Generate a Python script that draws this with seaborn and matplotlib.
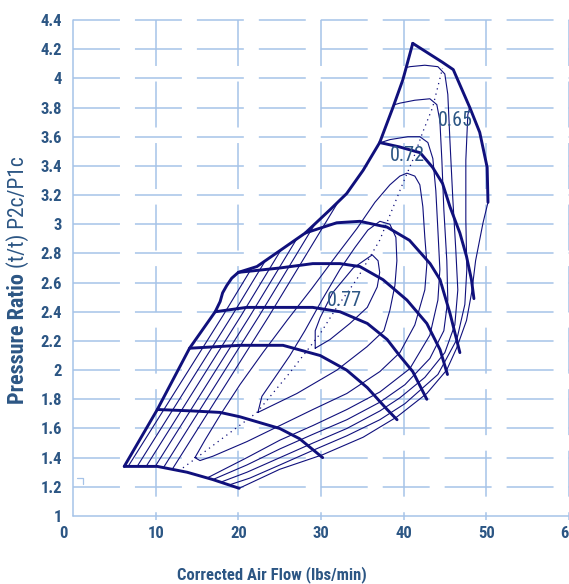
import matplotlib
matplotlib.use("Agg")
import matplotlib.pyplot as plt
from matplotlib import font_manager
from matplotlib.patches import Polygon
from matplotlib.transforms import ScaledTranslation
import seaborn as sns

# ---- axes -------------------------------------------------------------
x_ticks = [0, 10, 20, 30, 40, 50, 60]
y_ticks = [1, 1.2, 1.4, 1.6, 1.8, 2, 2.2, 2.4, 2.6, 2.8, 3, 3.2, 3.4, 3.6, 3.8, 4, 4.2, 4.4]
y_tick_labels = ["1", "1.2", "1.4", "1.6", "1.8", "2", "2.2", "2.4", "2.6", "2.8",
                 "3", "3.2", "3.4", "3.6", "3.8", "4", "4.2", "4.4"]

# ---- surge line and speed lines (thick) -------------------------------
surge_x = [6.2, 10.2, 14.1, 17.2, 17.8, 18.1, 18.6, 19.2, 20.0, 22.25, 24.8, 28.1, 31.1, 33.1, 35.1, 37.1, 38.7, 39.9, 41.1]
surge_y = [1.34, 1.73, 2.15, 2.40, 2.47, 2.53, 2.58, 2.63, 2.67, 2.71, 2.81, 2.94, 3.10, 3.21, 3.37, 3.56, 3.80, 3.99, 4.24]

s0_x = [6.2, 10.2, 13.8, 16.9, 20.1]
s0_y = [1.34, 1.34, 1.30, 1.25, 1.19]
s1_x = [10.2, 14.5, 17.8, 20.2, 22.6, 25.0, 27.4, 30.2]
s1_y = [1.73, 1.72, 1.71, 1.68, 1.64, 1.60, 1.53, 1.40]
s2_x = [14.1, 20.2, 25.4, 29.9, 33.1, 35.6, 38.0, 39.2]
s2_y = [2.15, 2.17, 2.17, 2.10, 2.00, 1.88, 1.73, 1.66]
s3_x = [17.2, 21.0, 25.0, 29.0, 32.3, 35.6, 38.0, 39.5, 41.1, 42.8]
s3_y = [2.40, 2.43, 2.43, 2.43, 2.40, 2.32, 2.21, 2.10, 1.99, 1.80]
s4_x = [20.0, 25.0, 29.0, 32.3, 34.7, 37.5, 40.4, 42.8, 44.4, 45.3]
s4_y = [2.67, 2.70, 2.73, 2.73, 2.71, 2.62, 2.48, 2.32, 2.14, 1.97]
s5_x = [28.1, 31.9, 34.7, 38.0, 40.7, 43.2, 44.4, 45.6, 46.8]
s5_y = [2.94, 3.01, 3.02, 2.98, 2.89, 2.73, 2.62, 2.39, 2.12]
s6_x = [37.1, 39.5, 42.0, 43.5, 44.7, 45.6, 46.8, 47.6, 48.2, 48.5]
s6_y = [3.56, 3.53, 3.49, 3.39, 3.28, 3.12, 2.94, 2.78, 2.62, 2.49]
s7_x = [41.1, 44.7, 46.0, 48.0, 49.2, 50.1, 50.2]
s7_y = [4.24, 4.11, 4.06, 3.80, 3.63, 3.39, 3.15]

# ---- efficiency contours (thin) ---------------------------------------
c8_x = [50.2, 49.6, 48.7, 48.25, 47.6, 46.4, 45.2, 42.8, 39.2, 35.1, 30.2, 25.0, 20.1]
c8_y = [3.15, 3.01, 2.75, 2.54, 2.34, 2.15, 2.00, 1.84, 1.68, 1.54, 1.42, 1.32, 1.19]

c1_x = [29.3, 29.3, 29.9, 31.4, 33.9, 36.2, 36.9, 37.1, 36.8, 35.6, 33.5, 31.1, 29.3]
c1_y = [2.15, 2.27, 2.36, 2.53, 2.70, 2.79, 2.75, 2.67, 2.57, 2.43, 2.32, 2.21, 2.15]

c2_x = [22.37, 22.85, 24.43, 26.24, 28.05, 30.11, 32.29, 34.10, 35.67, 37.12, 38.33, 39.06,
        39.18, 38.94, 38.33, 37.61, 35.55, 31.92, 27.09, 22.37]
c2_y = [1.71, 1.82, 1.95, 2.10, 2.27, 2.48, 2.69, 2.84, 2.96, 3.02, 3.00, 2.91,
        2.75, 2.58, 2.41, 2.27, 2.16, 2.00, 1.84, 1.71]

c3_x = [14.75, 15.96, 17.78, 20.19, 22.97, 25.88, 28.90, 31.92, 34.34, 36.52, 38.33, 39.54,
        40.39, 41.35, 41.96, 42.32, 42.56, 42.81, 42.56, 41.35, 39.54, 37.12, 33.13, 29.02,
        25.03, 21.04, 16.93, 15.36, 14.75]
c3_y = [1.40, 1.52, 1.69, 1.90, 2.12, 2.34, 2.56, 2.79, 2.97, 3.15, 3.27, 3.33,
        3.35, 3.33, 3.27, 3.12, 2.91, 2.73, 2.55, 2.31, 2.12, 1.99, 1.84, 1.73,
        1.62, 1.51, 1.41, 1.38, 1.40]

c4_x = [36.15, 38.33, 40.51, 41.96, 42.93, 43.53, 43.89, 44.14, 44.38, 44.14, 43.17, 40.75,
        37.12, 33.13, 29.02, 25.03, 21.04, 16.20, 14.75]
c4_y = [3.54, 3.58, 3.60, 3.60, 3.56, 3.45, 3.23, 2.96, 2.69, 2.48, 2.24, 2.01,
        1.85, 1.73, 1.62, 1.52, 1.40, 1.26, 1.22]

c5_x = [37.73, 39.54, 41.35, 43.17, 44.01, 44.38, 44.62, 44.86, 45.22, 45.34, 44.86, 43.17,
        40.15, 37.12, 33.13, 29.02, 25.03, 21.04, 16.93, 15.36]
c5_y = [3.80, 3.83, 3.85, 3.86, 3.82, 3.71, 3.44, 3.10, 2.75, 2.48, 2.27, 2.08,
        1.90, 1.78, 1.66, 1.56, 1.46, 1.35, 1.25, 1.21]

c6_x = [39.30, 40.75, 42.56, 44.14, 44.98, 45.34, 45.59, 45.95, 46.31, 46.55, 46.19, 44.98,
        42.56, 39.54, 37.12, 33.13, 29.02, 25.03, 21.04, 17.78, 15.96]
c6_y = [4.06, 4.08, 4.09, 4.08, 4.03, 3.89, 3.58, 3.17, 2.82, 2.55, 2.31, 2.12,
        1.95, 1.81, 1.72, 1.60, 1.50, 1.40, 1.30, 1.23, 1.19]

c7_x = [48.25, 47.76, 47.52, 47.52, 47.64, 47.40, 46.43, 44.14, 40.15, 37.12, 33.13, 29.02,
        25.03, 21.40, 18.74, 16.81]
c7_y = [3.86, 3.75, 3.44, 3.03, 2.69, 2.45, 2.21, 1.97, 1.77, 1.66, 1.55, 1.45,
        1.35, 1.26, 1.21, 1.16]

# left-hand parts of the outer contours (cut off by the surge line)
left_start_x = [5.45, 6.54, 7.63, 8.72, 9.81, 11.0]
left_mid_x = [18.1, 19.2, 20.3, 21.4, 22.5, 23.7]
left_end_x = [30.3, 31.4, 32.5, 33.6, 34.7, 35.9]
left_y = [1.23, 2.37, 3.51]

# peak efficiency ridge (dotted)
ridge_x = [13.3, 14.5, 22.25, 26.2, 29.9, 31.9, 34.3, 37.1, 39.9, 41.1, 42.3, 43.5, 44.7]
ridge_y = [1.33, 1.38, 1.71, 1.98, 2.25, 2.43, 2.62, 2.89, 3.28, 3.44, 3.63, 3.80, 4.07]

eff_labels = ["0.77", "0.72", "0.65"]
eff_x = [32.8, 40.4, 46.3]
eff_y = [2.48, 3.47, 3.71]

corner_x = [0.5, 1.2, 1.2]
corner_y = [1.26, 1.26, 1.22]

NAVY = "#10107c"
TEXT = "#2c5684"
GRID = "#a6c3e8"

sns.set_style("white")

# pick a narrow typeface if one is installed
fonts = font_manager.fontManager.ttflist
names = {f.name for f in fonts}
family, stretch = "Roboto", "normal"
for cand in ["Roboto Condensed", "Liberation Sans Narrow", "Open Sans Condensed",
             "Noto Sans Condensed", "DejaVu Sans Condensed"]:
    if cand in names:
        family = cand
        break
else:
    narrow = [f.name for f in fonts if "Condensed" in f.name or "Narrow" in f.name]
    if narrow:
        family = narrow[0]
    elif any(f.name == "DejaVu Sans" and str(f.stretch) in ("condensed", "semi-condensed")
             for f in fonts):
        family, stretch = "DejaVu Sans", "condensed"
plt.rcParams["font.family"] = [family, "DejaVu Sans"]
plt.rcParams["font.stretch"] = stretch
plt.rcParams["lines.scale_dashes"] = False

fig = plt.figure(figsize=(5.69, 5.84), dpi=100)
ax = fig.add_axes([73 / 569, 68 / 584, 496 / 569, 496 / 584])
ax.set_xlim(0, 60)
ax.set_ylim(1, 4.4)
for sp in ax.spines.values():
    sp.set_visible(False)

# dashed grid
for yv in y_ticks[1:]:
    ax.plot([0, 60], [yv, yv], color=GRID, lw=1.1, ls=(0, (33.8, 10.8)), zorder=0, clip_on=False)
for xv in x_ticks[1:]:
    ax.plot([xv, xv], [4.4, 0.97], color=GRID, lw=1.1, ls=(0, (33.1, 11.2)), zorder=0, clip_on=False)
ax.plot([0, 0], [1, 4.4], color=GRID, lw=1.1, zorder=0, clip_on=False)
ax.plot([0, 60], [1, 1], color=GRID, lw=1.1, zorder=0, clip_on=False)
ax.plot(corner_x, corner_y, color=GRID, lw=0.9, zorder=0)

ax.set_xticks(x_ticks)
ax.set_xticklabels([str(v) for v in x_ticks])
ax.set_yticks(y_ticks)
ax.set_yticklabels(y_tick_labels)
ax.tick_params(length=0, labelsize=12, labelcolor=TEXT)
ax.tick_params(axis="x", pad=7)
ax.tick_params(axis="y", pad=8)
for lab in ax.get_xticklabels() + ax.get_yticklabels():
    lab.set_fontweight("bold")
# the "0" label sits a little left of its gridline
zero = ax.get_xticklabels()[0]
zero.set_transform(zero.get_transform() + ScaledTranslation(-0.10, 0, fig.dpi_scale_trans))
ax.set_xlabel("")
ax.set_ylabel("")

# clip region of the map: surge, top speed line, outer contour, lowest speed line
region = (list(zip(surge_x, surge_y)) + list(zip(s7_x[1:], s7_y[1:]))
          + list(zip(c8_x[1:], c8_y[1:])) + list(zip(s0_x[::-1][1:], s0_y[::-1][1:])))
clip_poly = Polygon(region, closed=True, transform=ax.transData)


def draw(xs, ys, lw, clip=False, ls="-"):
    sns.lineplot(x=xs, y=ys, sort=False, estimator=None, color=NAVY, linewidth=lw, ax=ax)
    ln = ax.lines[-1]
    ln.set_linestyle(ls)
    ln.set_solid_joinstyle("round")
    ln.set_solid_capstyle("round")
    if clip:
        ln.set_clip_path(clip_poly)
    return ln


thin = 0.8
for cx, cy in [(c1_x, c1_y), (c2_x, c2_y), (c3_x, c3_y)]:
    draw(cx, cy, thin)
for cx, cy in [(c4_x, c4_y), (c5_x, c5_y), (c6_x, c6_y), (c7_x, c7_y)]:
    draw(cx, cy, thin, clip=True)
for x0, x1, x2 in zip(left_start_x, left_mid_x, left_end_x):
    draw([x0, x1, x2], left_y, thin, clip=True)
draw(c8_x, c8_y, thin)
draw(ridge_x, ridge_y, 0.9, ls=(0, (0.9, 3.0)))

thick = 2.1
draw(surge_x, surge_y, thick)
for sx, sy in [(s0_x, s0_y), (s1_x, s1_y), (s2_x, s2_y), (s3_x, s3_y), (s4_x, s4_y),
               (s5_x, s5_y), (s6_x, s6_y), (s7_x, s7_y)]:
    draw(sx, sy, thick)

for t, x, y in zip(eff_labels, eff_x, eff_y):
    ax.text(x, y, t, color=TEXT, fontsize=14.5, ha="center", va="center", zorder=5)

fig.text(272 / 569, 1 - 575 / 584, "Corrected Air Flow (lbs/min)", color=TEXT,
         fontsize=12, fontweight="bold", ha="center", va="center")

fig.canvas.draw()
t1 = fig.text(18 / 569, 1 - 404 / 584, "Pressure Ratio", color=TEXT, fontsize=16,
              fontweight="bold", rotation=90, ha="center", va="bottom")
bb = t1.get_window_extent(fig.canvas.get_renderer())
fig.text(18 / 569, (bb.y1 + 5) / fig.bbox.height, "(t/t) P2c/P1c", color=TEXT, fontsize=15.5,
         rotation=90, ha="center", va="bottom")

fig.savefig("out.png", dpi=100)
